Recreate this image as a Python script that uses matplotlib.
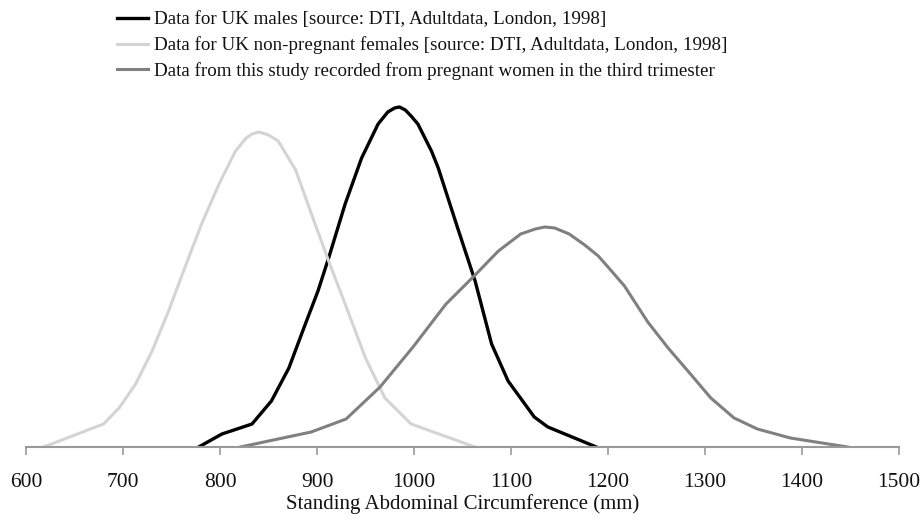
import matplotlib
matplotlib.use("Agg")
import matplotlib.pyplot as plt

# Data (heights in arbitrary relative-frequency units)
female_x = [618, 680, 696, 713, 730, 747, 764, 781, 799, 816, 827, 833, 840, 850, 860,
            878, 898, 912, 929, 950, 970, 997, 1063]
female_y = [0, 23, 39, 63, 96, 136, 180, 223, 263, 296, 309, 313, 315, 312, 306,
            277, 223, 186, 143, 89, 49, 23, 0]

male_x = [778, 802, 833, 853, 871, 888, 901, 912, 929, 946, 963, 973, 980, 985, 991,
          997, 1004, 1018, 1025, 1045, 1063, 1080, 1097, 1124, 1138, 1188]
male_y = [0, 13, 23, 46, 79, 123, 156, 189, 243, 289, 323, 335, 339, 340, 337,
          331, 323, 296, 279, 219, 166, 103, 66, 30, 20, 0]

preg_x = [821, 894, 930, 965, 999, 1033, 1063, 1087, 1110, 1125, 1135, 1145, 1160,
          1176, 1190, 1200, 1217, 1241, 1262, 1285, 1306, 1330, 1354, 1388, 1447]
preg_y = [0, 15, 28, 60, 100, 143, 172, 196, 213, 218, 220, 219, 213,
          202, 191, 180, 161, 125, 99, 73, 49, 29, 18, 9, 0]

x_ticks = [600, 700, 800, 900, 1000, 1100, 1200, 1300, 1400, 1500]
labels = [
    "Data for UK males [source: DTI, Adultdata, London, 1998]",
    "Data for UK non-pregnant females [source: DTI, Adultdata, London, 1998]",
    "Data from this study recorded from pregnant women in the third trimester",
]
x_label = "Standing Abdominal Circumference (mm)"

plt.rcParams["font.family"] = ["Liberation Serif", "DejaVu Serif"]

W, H = 924, 520
fig = plt.figure(figsize=(W / 100, H / 100), dpi=100)
ax_left, ax_right = 26 / W, 899 / W
ax_bottom = (H - 447) / H
ax_top = (H - 100) / H
ax = fig.add_axes([ax_left, ax_bottom, ax_right - ax_left, ax_top - ax_bottom])

l1, = ax.plot(male_x, male_y, color="#000000", lw=2.4, solid_joinstyle="round")
l2, = ax.plot(female_x, female_y, color="#d4d4d4", lw=2.2, solid_joinstyle="round")
l3, = ax.plot(preg_x, preg_y, color="#808080", lw=2.2, solid_joinstyle="round")

ax.set_xlim(600, 1500)
ax.set_ylim(0, 347)
ax.set_xticks(x_ticks)
ax.set_xticklabels([str(t) for t in x_ticks])
ax.set_yticks([])
for s in ["top", "right", "left"]:
    ax.spines[s].set_visible(False)
ax.spines["bottom"].set_color("#999999")
ax.spines["bottom"].set_linewidth(1.5)
ax.tick_params(axis="x", direction="out", length=6, width=1.2, color="#999999",
               labelsize=15.5, pad=13, labelcolor="#111111")
ax.set_xlabel(x_label, fontsize=15, labelpad=1, color="#111111")
ax.patch.set_alpha(0)

fig.legend([l1, l2, l3], labels, loc="upper left",
           bbox_to_anchor=(117 / W, 1 - 11 / H), frameon=False,
           fontsize=13.7, handlelength=1.65, handletextpad=0.3,
           labelspacing=0.42, borderpad=0, borderaxespad=0,
           labelcolor="#111111")

fig.savefig("out.png", dpi=100)
